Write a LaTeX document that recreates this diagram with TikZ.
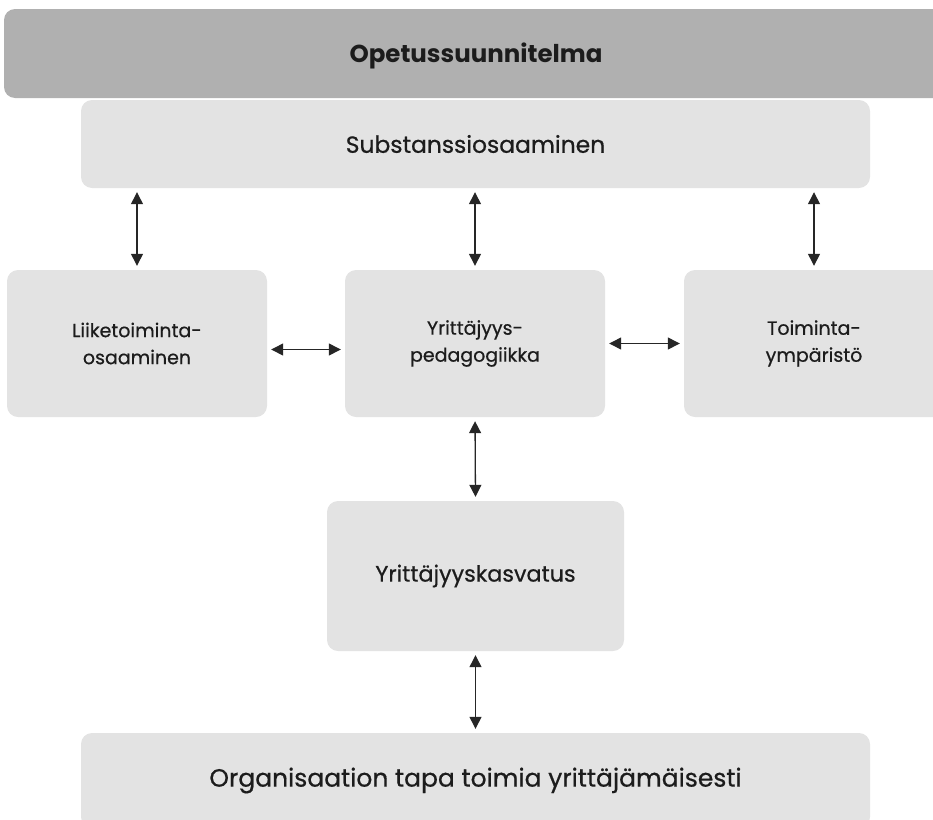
\documentclass[tikz,border=0pt]{standalone}
\usepackage{fontspec}
\setmainfont{Poppins}[UprightFeatures={FakeBold=0.6}]
\usetikzlibrary{arrows.meta}
\definecolor{barGray}{HTML}{B0B0B0}
\definecolor{boxGray}{HTML}{E3E3E3}
\definecolor{inkGray}{HTML}{1C1C1C}
\begin{document}
\begin{tikzpicture}[x=1pt,y=-1pt,
  panel/.style={fill=boxGray, draw=none, rounded corners=11pt, inner sep=0pt,
    align=center, text=inkGray},
  link/.style={{Triangle[length=12pt,width=12pt]}-{Triangle[length=12pt,width=12pt]},
    line width=1.3pt, draw=black!85, shorten <=4pt, shorten >=4pt},
  midtext/.style={font=\fontsize{19}{27}\selectfont}]
\useasboundingbox (0,0) rectangle (933,819);
\begin{scope}
\clip (0,0) rectangle (933,819);
% curriculum bar across the top
\node[panel, fill=barGray, minimum width=960pt, minimum height=89pt] (ops) at (484,53.5) {};
\node[text=inkGray, font=\fontsize{24.5}{28}\selectfont\bfseries] (opsT) at (476,56) {Opetussuunnitelma};
% subject knowledge
\node[panel, minimum width=789pt, minimum height=88pt,
  font=\fontsize{23.4}{28}\selectfont] (sub) at (475.5,144) {Substanssiosaaminen};
% middle row
\node[panel, midtext, minimum width=260pt, minimum height=147pt] (liike) at (137,343.5) {Liiketoiminta-\\osaaminen};
\node[panel, midtext, minimum width=260pt, minimum height=147pt] (ped) at (475,343.5) {Yrittäjyys-\\pedagogiikka};
\node[panel, midtext, minimum width=260pt, minimum height=147pt] (toim) at (814,343.5) {Toiminta-\\ympäristö};
% entrepreneurship education
\node[panel, font=\fontsize{22.3}{26}\selectfont, minimum width=297pt, minimum height=150pt] (kasv) at (475.5,576) {Yrittäjyyskasvatus};
% organisation
\node[panel, font=\fontsize{25}{30}\selectfont, minimum width=789pt, minimum height=95pt] (org) at (475.5,780.5) {Organisaation tapa toimia yrittäjämäisesti};
\end{scope}
% connectors
\draw[link] (sub.south -| liike.north) -- (liike.north);
\draw[link] (sub.south -| ped.north) -- (ped.north);
\draw[link] (sub.south -| toim.north) -- (toim.north);
\draw[link] ([yshift=-6pt]liike.east) -- ([yshift=-6pt]ped.west);
\draw[link] (ped.east) -- (toim.west);
\draw[link] (ped.south) -- (kasv.north);
\draw[link] (kasv.south) -- (org.north);
\end{tikzpicture}
\end{document}
